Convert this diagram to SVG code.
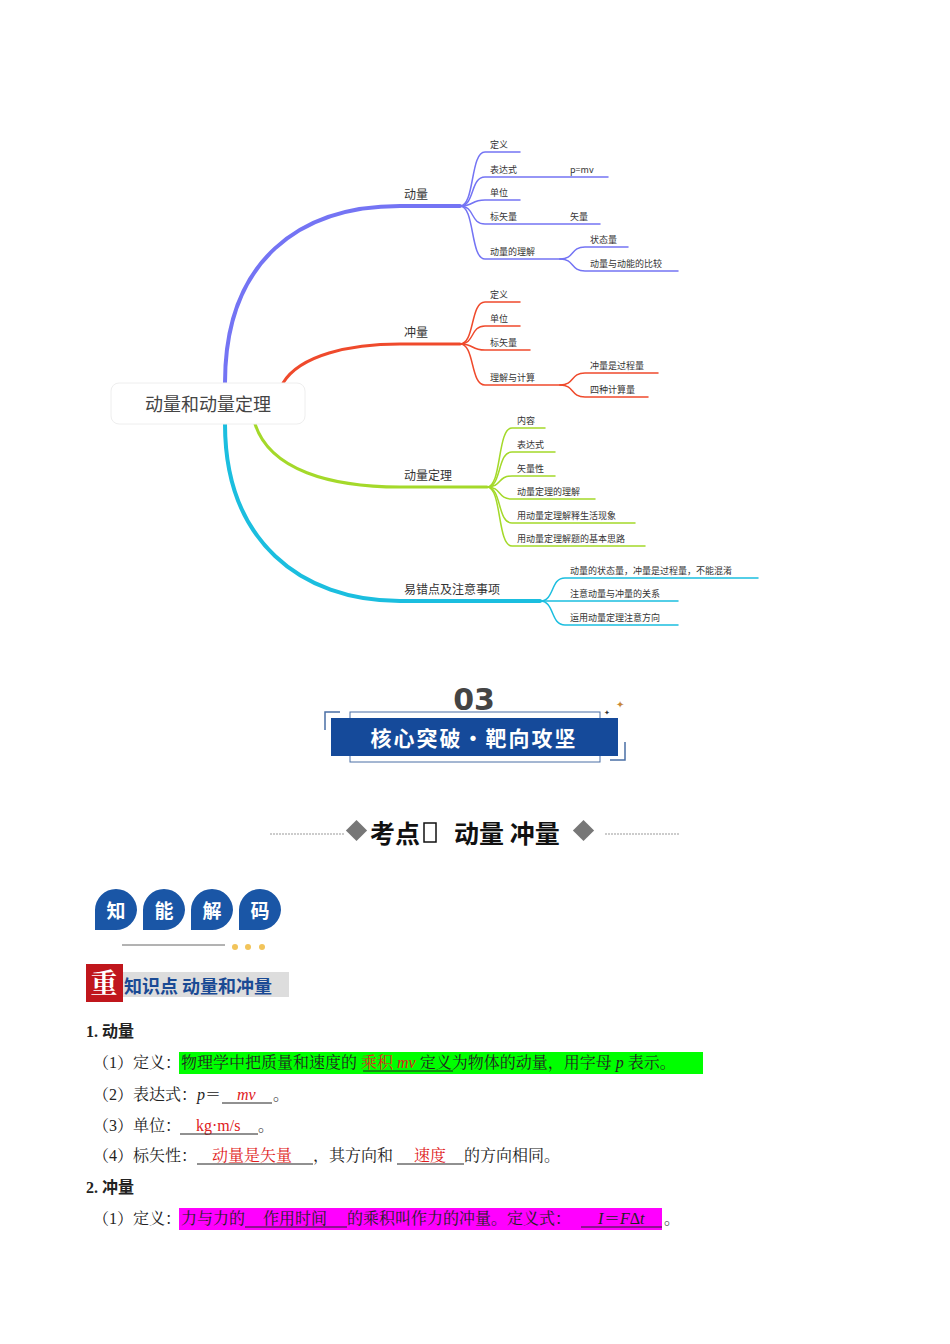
<svg xmlns="http://www.w3.org/2000/svg" width="950" height="1344" viewBox="0 0 950 1344">
<style>
.t{font-family:"Noto Sans CJK SC","Noto Sans",sans-serif;fill:#333;font-size:9px}
.b{font-family:"Noto Sans CJK SC","Noto Sans",sans-serif;fill:#333;font-size:12px}
.s{font-family:"Liberation Serif","Noto Serif CJK SC","Noto Sans CJK SC",serif;font-size:16px;fill:#222}
.r{fill:#e02020}
.f{fill:none}
.u{stroke:#222;stroke-width:1}
</style>
<rect width="950" height="1344" fill="#fff"/>
<g id="connectors" class="f" stroke-linecap="round">
<path d="M225,383 C225,260 300,206 400,206 H460" stroke="#7474f4" stroke-width="4"/>
<path d="M283,383 C300,355 350,344 400,344 H460" stroke="#ef4a2c" stroke-width="3"/>
<path d="M255,424 C270,470 330,487 400,487 H487" stroke="#a4d92a" stroke-width="3"/>
<path d="M225,424 C225,540 300,601 400,601 H540" stroke="#1bbedf" stroke-width="4"/>
<g stroke="#7474f4" stroke-width="1.5">
<path d="M460,206 C475,206 470,152 485,152 H520"/><path d="M460,206 C475,206 470,177 485,177 H608"/>
<path d="M460,206 C475,206 470,200 485,200 H520"/><path d="M460,206 C475,206 470,224 485,224 H600"/>
<path d="M460,206 C475,206 470,259 485,259 H560"/>
<path d="M560,259 C575,259 570,247 585,247 H628"/><path d="M560,259 C575,259 570,271 585,271 H678"/></g>
<g stroke="#ef4a2c" stroke-width="1.5">
<path d="M460,344 C475,344 470,302 485,302 H520"/><path d="M460,344 C475,344 470,326 485,326 H520"/>
<path d="M460,344 C475,344 470,350 485,350 H530"/><path d="M460,344 C475,344 470,385 485,385 H560"/>
<path d="M560,385 C575,385 570,373 585,373 H658"/><path d="M560,385 C575,385 570,397 585,397 H648"/></g>
<g stroke="#a4d92a" stroke-width="1.5">
<path d="M487,487 C502,487 497,428 512,428 H545"/><path d="M487,487 C502,487 497,452 512,452 H555"/>
<path d="M487,487 C502,487 497,476 512,476 H555"/><path d="M487,487 C502,487 497,499 512,499 H595"/>
<path d="M487,487 C502,487 497,523 512,523 H635"/><path d="M487,487 C502,487 497,546 512,546 H645"/></g>
<g stroke="#1bbedf" stroke-width="1.5">
<path d="M540,601 C555,601 550,578 565,578 H758"/><path d="M540,601 C555,601 550,601 565,601 H678"/>
<path d="M540,601 C555,601 550,625 565,625 H678"/></g>
</g>
<g id="root"><rect x="111" y="383" width="194" height="41" rx="8" fill="#fff" stroke="#eee"/>
<text x="208" y="411" text-anchor="middle" class="t" style="font-size:18px;fill:#444">动量和动量定理</text></g>
<g id="n-dl"><text x="404" y="199" class="b">动量</text>
<text x="490" y="148" class="t">定义</text><text x="490" y="173" class="t">表达式</text><text x="570" y="173" class="t">p=mv</text>
<text x="490" y="196" class="t">单位</text><text x="490" y="220" class="t">标矢量</text><text x="570" y="220" class="t">矢量</text>
<text x="490" y="255" class="t">动量的理解</text><text x="590" y="243" class="t">状态量</text><text x="590" y="267" class="t">动量与动能的比较</text></g>
<g id="n-cl"><text x="404" y="337" class="b">冲量</text>
<text x="490" y="298" class="t">定义</text><text x="490" y="322" class="t">单位</text><text x="490" y="346" class="t">标矢量</text>
<text x="490" y="381" class="t">理解与计算</text><text x="590" y="369" class="t">冲量是过程量</text><text x="590" y="393" class="t">四种计算量</text></g>
<g id="n-dldl"><text x="404" y="480" class="b">动量定理</text>
<text x="517" y="424" class="t">内容</text><text x="517" y="448" class="t">表达式</text><text x="517" y="472" class="t">矢量性</text>
<text x="517" y="495" class="t">动量定理的理解</text><text x="517" y="519" class="t">用动量定理解释生活现象</text><text x="517" y="542" class="t">用动量定理解题的基本思路</text></g>
<g id="n-yc"><text x="404" y="594" class="b">易错点及注意事项</text>
<text x="570" y="574" class="t">动量的状态量，冲量是过程量，不能混淆</text><text x="570" y="597" class="t">注意动量与冲量的关系</text><text x="570" y="621" class="t">运用动量定理注意方向</text></g>
<g id="banner">
<text x="474" y="710" text-anchor="middle" style="font-family:'DejaVu Sans',sans-serif;font-weight:bold;font-size:30px;fill:#444">03</text>
<path d="M340,712 H325 V730" class="f" stroke="#4a6fa5" stroke-width="1.5"/>
<path d="M610,760 H625 V742" class="f" stroke="#4a6fa5" stroke-width="1.5"/>
<rect x="350" y="712" width="250" height="50" class="f" stroke="#4a6fa5"/>
<rect x="331" y="718" width="287" height="38" fill="#154a9a"/>
<text x="474" y="746" text-anchor="middle" style="font-family:'Noto Sans CJK SC',sans-serif;font-weight:bold;font-size:21px;fill:#fff;letter-spacing:2px">核心突破・靶向攻坚</text>
<text x="616" y="708" style="font-size:10px;fill:#c8883a;font-family:'DejaVu Sans',sans-serif">✦</text>
<text x="604" y="715" style="font-size:7px;fill:#333;font-family:'DejaVu Sans',sans-serif">✦</text>
</g>
<g id="title">
<line x1="270" y1="834" x2="345" y2="834" stroke="#999" stroke-dasharray="2,1"/>
<line x1="605" y1="834" x2="680" y2="834" stroke="#999" stroke-dasharray="2,1"/>
<rect x="349" y="823" width="15" height="15" fill="#777" transform="rotate(45 356.5 830.5)"/>
<rect x="576" y="823" width="15" height="15" fill="#777" transform="rotate(45 583.5 830.5)"/>
<text x="370" y="843" style="font-family:'Noto Sans CJK SC',sans-serif;font-weight:bold;font-size:25px;fill:#111">考点</text>
<rect x="424" y="823" width="12" height="19" class="f" stroke="#111" stroke-width="1.5"/>
<text x="454" y="843" style="font-family:'Noto Sans CJK SC',sans-serif;font-weight:bold;font-size:25px;fill:#111">动量 冲量</text>
</g>
<g id="badges" style="font-family:'Noto Sans CJK SC',sans-serif;font-weight:bold;font-size:19px" fill="#fff">
<path d="M95,930 V910 a21,21 0 1 1 42,0 a21,21 0 0 1 -21,20 Z" fill="#1a56a6"/>
<path d="M143,930 V910 a21,21 0 1 1 42,0 a21,21 0 0 1 -21,20 Z" fill="#1a56a6"/>
<path d="M191,930 V910 a21,21 0 1 1 42,0 a21,21 0 0 1 -21,20 Z" fill="#1a56a6"/>
<path d="M239,930 V910 a21,21 0 1 1 42,0 a21,21 0 0 1 -21,20 Z" fill="#1a56a6"/>
<text x="116" y="918" text-anchor="middle">知</text><text x="164" y="918" text-anchor="middle">能</text>
<text x="212" y="918" text-anchor="middle">解</text><text x="260" y="918" text-anchor="middle">码</text>
<line x1="122" y1="945" x2="225" y2="945" stroke="#666"/>
<circle cx="235" cy="947" r="3" fill="#f2c45a"/><circle cx="248" cy="947" r="3" fill="#f2c45a"/><circle cx="262" cy="947" r="3" fill="#f2c45a"/>
</g>
<g id="kp">
<rect x="123" y="972" width="166" height="25" fill="#ddd"/>
<rect x="86" y="964" width="37" height="38" fill="#c0161c"/>
<text x="104" y="993" text-anchor="middle" style="font-family:'Noto Serif CJK SC','Noto Sans CJK SC',serif;font-weight:bold;font-size:27px;fill:#fff">重</text>
<text x="124" y="993" style="font-family:'Noto Sans CJK SC',sans-serif;font-weight:bold;font-size:18px;fill:#1a4a94">知识点  动量和冲量</text>
</g>
<g id="body">
<rect x="179" y="1052" width="524" height="22" fill="#00ff00"/>
<rect x="179" y="1208" width="483" height="22" fill="#ff00ff"/>
<text x="86" y="1037" class="s" font-weight="bold">1. <tspan font-family="Noto Sans CJK SC">动量</tspan></text>
<text x="93" y="1068" class="s">（1）定义：物理学中把质量和速度的<tspan class="r">    乘积 </tspan><tspan class="r" font-style="italic">mv</tspan>    定义为物体的动量，用字母 <tspan font-style="italic">p</tspan> 表示。</text>
<line x1="363" y1="1071" x2="453" y2="1071" class="u"/>
<text x="93" y="1100" class="s">（2）表达式：<tspan font-style="italic">p</tspan>＝<tspan class="r" font-style="italic" x="237">mv</tspan><tspan x="273">。</tspan></text>
<line x1="222" y1="1103" x2="272" y2="1103" class="u"/>
<text x="93" y="1131" class="s">（3）单位：<tspan class="r" x="196">kg·m/s</tspan><tspan x="258">。</tspan></text>
<line x1="180" y1="1134" x2="258" y2="1134" class="u"/>
<text x="93" y="1161" class="s">（4）标矢性：<tspan class="r" x="212">动量是矢量</tspan><tspan x="313">，其方向和</tspan><tspan class="r" x="414">速度</tspan><tspan x="464">的方向相同。</tspan></text>
<line x1="197" y1="1164" x2="313" y2="1164" class="u"/><line x1="397" y1="1164" x2="464" y2="1164" class="u"/>
<text x="86" y="1193" class="s" font-weight="bold">2. <tspan font-family="Noto Sans CJK SC">冲量</tspan></text>
<text x="93" y="1224" class="s">（1）定义：力与力的<tspan x="263">作用时间</tspan><tspan x="347">的乘积叫作力的冲量。定义式：</tspan><tspan x="598" font-style="italic">I</tspan><tspan x="604">＝</tspan><tspan font-style="italic">F</tspan>Δ<tspan font-style="italic">t</tspan><tspan x="664">。</tspan></text>
<line x1="245" y1="1227" x2="347" y2="1227" class="u"/><line x1="581" y1="1227" x2="662" y2="1227" class="u"/>
</g>
</svg>
